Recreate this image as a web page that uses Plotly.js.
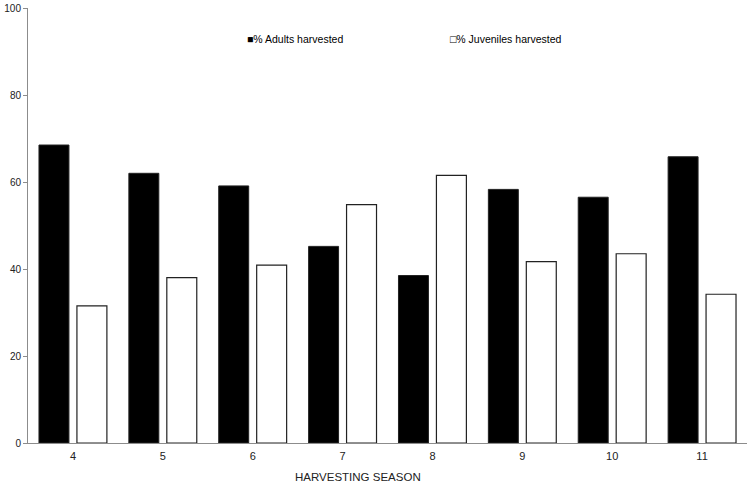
<!DOCTYPE html>
<html>
<head>
<meta charset="utf-8">
<script src="https://cdn.plot.ly/plotly-3.0.1.min.js"></script>
<style>html,body{margin:0;padding:0;background:#fff;}#chart{width:750px;height:485px;}</style>
</head>
<body>
<div id="chart"></div>
<script>
var seasons = ['4', '5', '6', '7', '8', '9', '10', '11'];
var adults = [68.5, 62.0, 59.1, 45.2, 38.5, 58.3, 56.5, 65.8];
var juveniles = [31.5, 38.0, 40.9, 54.8, 61.5, 41.7, 43.5, 34.2];
var seriesNames = ['% Adults harvested', '% Juveniles harvested'];
var yTicks = [0, 20, 40, 60, 80, 100];
var xTitle = 'HARVESTING SEASON';

var traces = [
  {
    type: 'bar', x: seasons, y: adults, name: seriesNames[0],
    width: 30/90, offset: -34/90,
    marker: {color: '#000000', line: {color: '#222222', width: 1}},
    showlegend: false
  },
  {
    type: 'bar', x: seasons, y: juveniles, name: seriesNames[1],
    width: 30/90, offset: 4/90,
    marker: {color: '#ffffff', line: {color: '#222222', width: 1.2}},
    showlegend: false
  }
];

var layout = {
  width: 750, height: 485,
  margin: {l: 28, r: 3, t: 8, b: 42, pad: 0},
  paper_bgcolor: '#ffffff', plot_bgcolor: '#ffffff',
  font: {family: 'Liberation Sans, Arial, sans-serif', size: 11, color: '#222222'},
  barmode: 'group',
  xaxis: {
    type: 'category',
    showline: true, linecolor: '#8c8c8c', linewidth: 1,
    ticks: '', showgrid: false, zeroline: false,
    tickfont: {size: 11, color: '#222222'},
    ticklabelstandoff: 3,
    automargin: false
  },
  yaxis: {
    range: [0, 100], tickvals: yTicks,
    showline: true, linecolor: '#8c8c8c', linewidth: 1,
    ticks: 'outside', ticklen: 4, tickcolor: '#8c8c8c',
    showgrid: false, zeroline: false,
    tickfont: {size: 10, color: '#222222'},
    automargin: false
  },
  annotations: [
    {xref: 'paper', yref: 'paper', x: (245-28)/719, y: (443-39)/435, xanchor: 'left', yanchor: 'middle',
     text: '\u25A0' + seriesNames[0], showarrow: false, font: {size: 10.5, color: '#000000'}},
    {xref: 'paper', yref: 'paper', x: (448-28)/719, y: (443-39)/435, xanchor: 'left', yanchor: 'middle',
     text: '\u25A1' + seriesNames[1], showarrow: false, font: {size: 10.5, color: '#000000'}},
    {xref: 'paper', yref: 'paper', x: (358-28)/719, y: -(477-443)/435, xanchor: 'center', yanchor: 'middle',
     text: xTitle, showarrow: false, font: {size: 11.5, color: '#222222'}}
  ]
};

Plotly.newPlot('chart', traces, layout, {displayModeBar: false, staticPlot: true});
</script>
</body>
</html>
